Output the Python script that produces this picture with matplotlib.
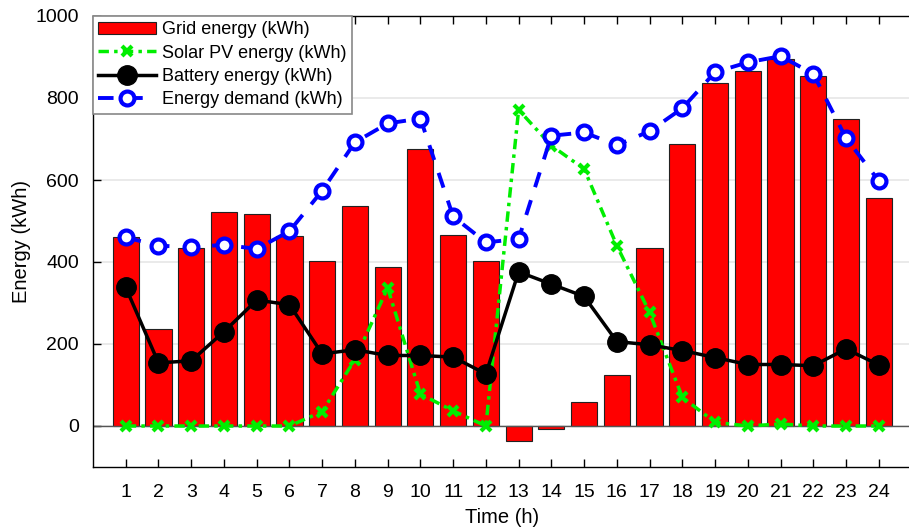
import matplotlib.pyplot as plt
import numpy as np

plt.rcParams['font.family'] = ['Liberation Sans', 'DejaVu Sans']

hours = np.arange(1, 25)
grid_energy = [460, 237, 434, 521, 517, 463, 403, 536, 387, 676, 467, 402,
               -37, -7, 58, 124, 433, 689, 836, 867, 895, 854, 748, 555]
solar_pv = [0, 0, 0, 0, 0, 0, 35, 162, 337, 78, 37, 0,
            771, 684, 627, 440, 277, 70, 9, 0, 5, 0, 0, 0]
battery = [338, 154, 159, 230, 307, 296, 176, 186, 172, 172, 168, 127,
           376, 346, 316, 206, 198, 184, 167, 150, 150, 147, 188, 149]
demand = [460, 440, 436, 442, 432, 475, 574, 692, 738, 750, 511, 448,
          456, 708, 716, 685, 719, 775, 863, 887, 902, 859, 702, 598]

fig = plt.figure(figsize=(9.09, 5.30), dpi=100)
ax = fig.add_axes([93 / 909, 1 - 467 / 530, 818.5 / 909, 451 / 530])

bars = ax.bar(hours, grid_energy, width=0.8, color='#ff0000', edgecolor='#222222',
              linewidth=0.8, label='Grid energy (kWh)', zorder=2)
ax.axhline(0, color='#555555', lw=1.0, zorder=2.5)
pv_line, = ax.plot(hours, solar_pv, color='#00ee00', lw=2.5, marker='x',
                   ms=7, mew=3, dashes=(3, 1.5, 1, 1.5),
                   label='Solar PV energy (kWh)', zorder=3)
bat_line, = ax.plot(hours, battery, color='black', ls='-', lw=2.5, marker='o',
                    ms=14, label='Battery energy (kWh)', zorder=4)
dem_line, = ax.plot(hours, demand, color='#0000ff', lw=2.8, marker='o', ms=10,
                    mfc='white', mec='#0000ff', mew=3, dashes=(4, 3.5),
                    label='Energy demand (kWh)', zorder=5)

ax.set_xlim(0, 25)
ax.set_ylim(-100, 1000)
ax.set_xticks(hours)
ax.set_yticks([0, 200, 400, 600, 800, 1000])
ax.grid(axis='y', color='#e6e6e6', lw=1.2, zorder=0)
ax.set_axisbelow(True)
ax.tick_params(direction='in', length=6, labelsize=14, top=True, width=1)
ax.tick_params(axis='x', pad=12)
ax.tick_params(axis='y', pad=10)
ax.spines['right'].set_visible(False)
for s in ('left', 'bottom', 'top'):
    ax.spines[s].set_linewidth(1)

ax.set_xlabel('Time (h)', fontsize=14.5, labelpad=5)
ax.set_ylabel('Energy (kWh)', fontsize=14.5, labelpad=3)

leg = ax.legend([bars, pv_line, bat_line, dem_line],
                [h.get_label() for h in (bars, pv_line, bat_line, dem_line)],
                loc='upper left', fontsize=13, frameon=True, fancybox=False,
                borderaxespad=0, handlelength=3.2, handletextpad=0.3,
                borderpad=0.3, labelspacing=0.35)
leg.get_frame().set_edgecolor('#888888')
leg.get_frame().set_linewidth(1.2)
leg.get_frame().set_alpha(1)

fig.savefig('out.png', dpi=100)
